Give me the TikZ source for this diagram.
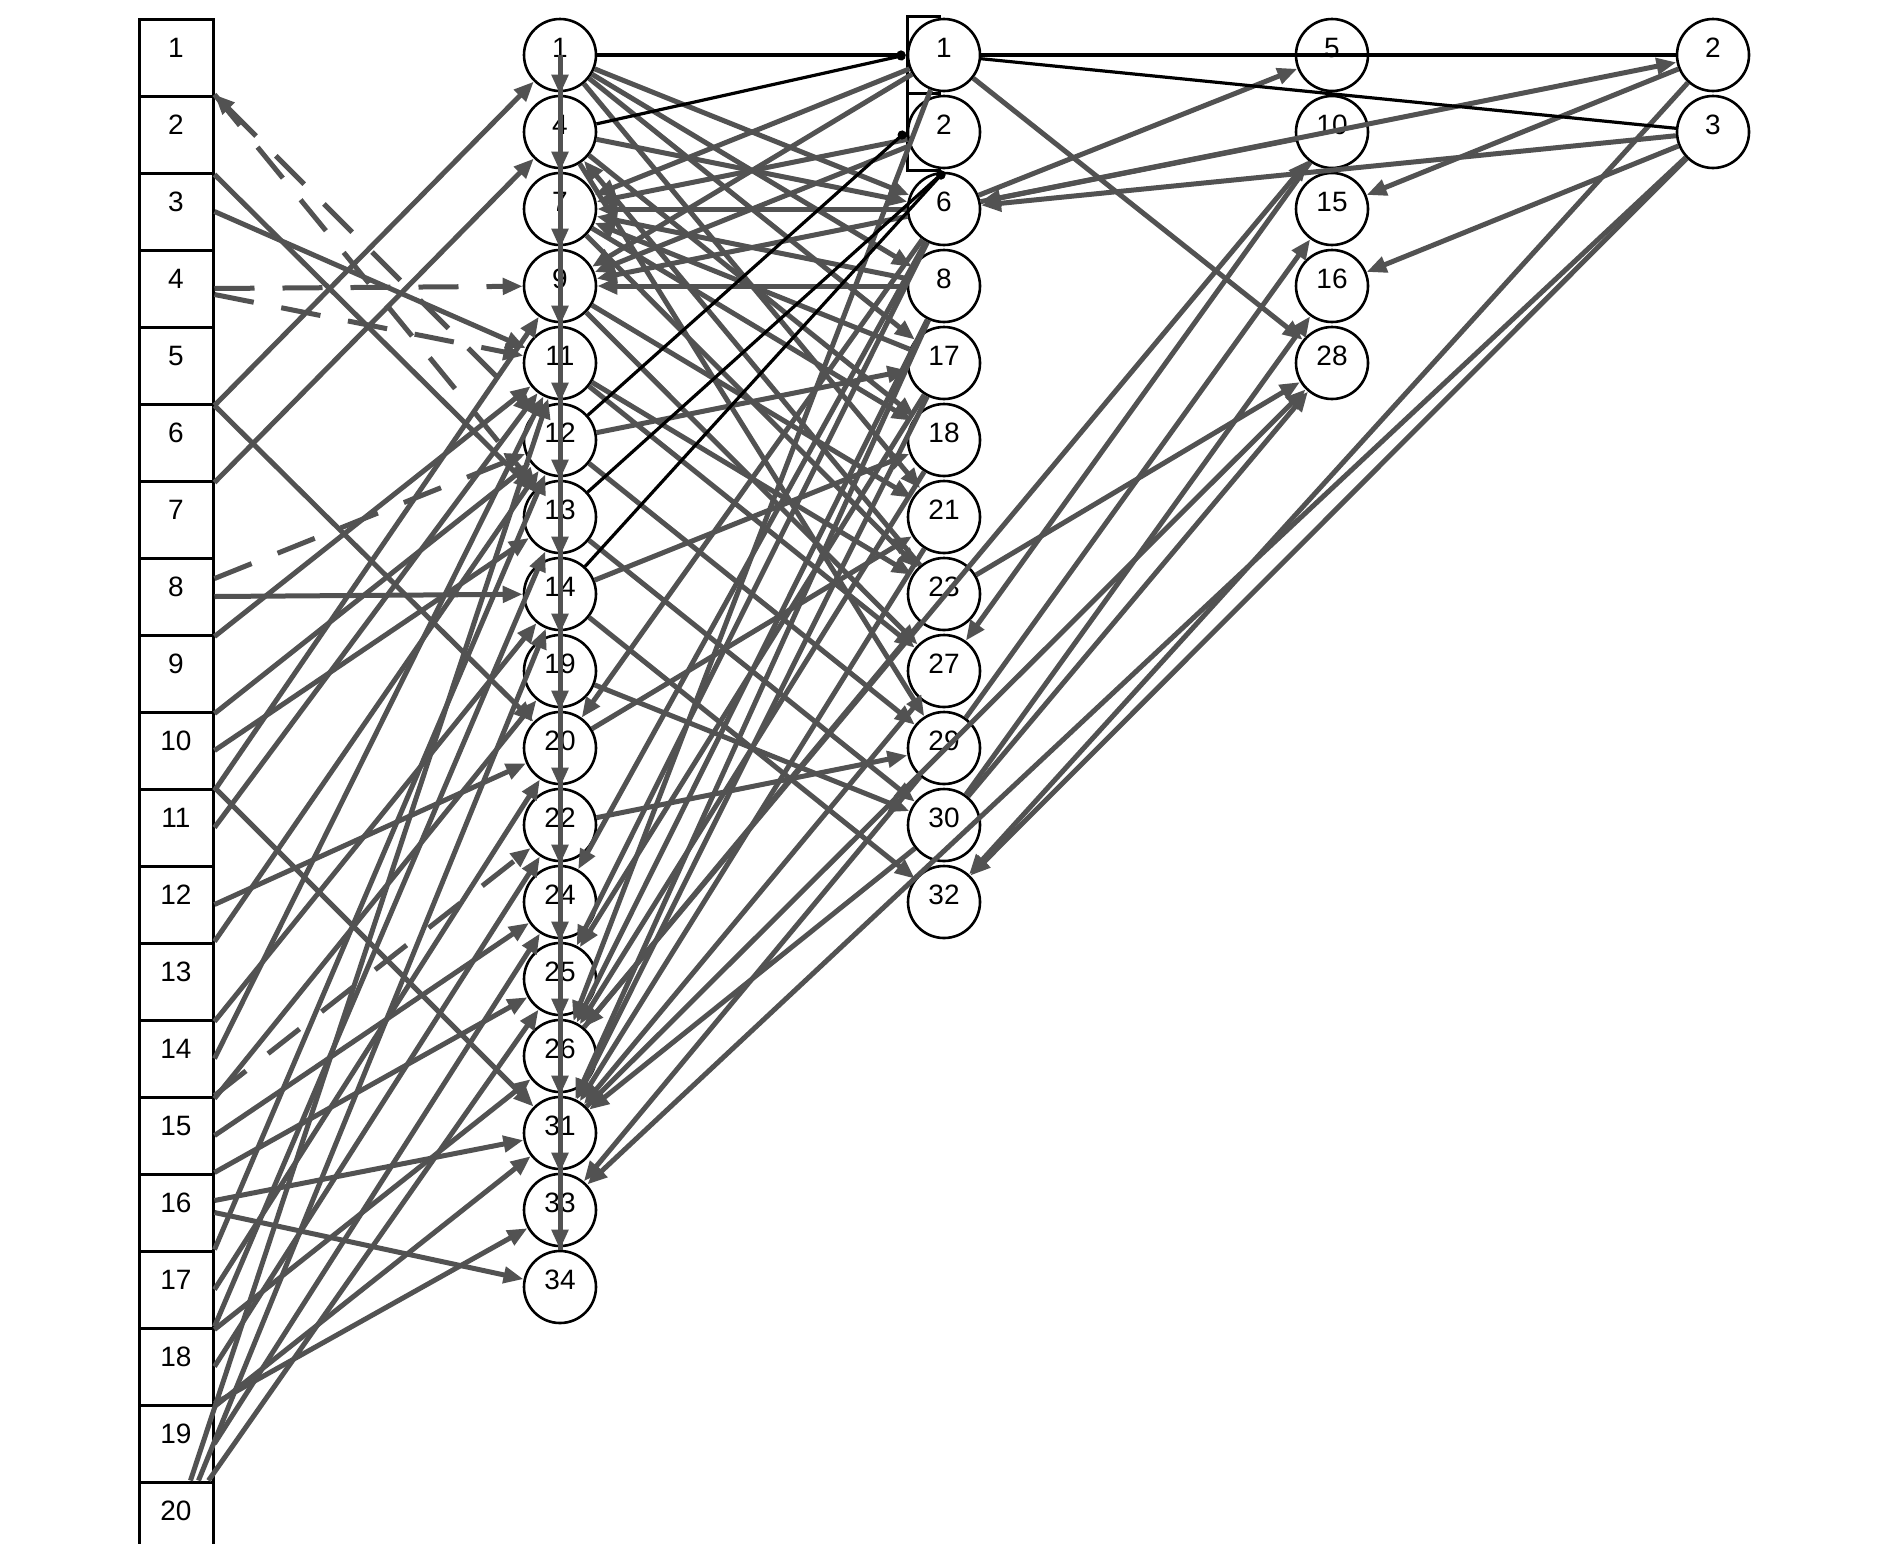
\documentclass[tikz,border=0pt]{standalone}
\usepackage{fontspec}
\setmainfont{Liberation Sans}
\usetikzlibrary{arrows.meta,calc}
\definecolor{eg}{RGB}{82,82,82}
\begin{document}
\begin{tikzpicture}[x=0.5pt,y=-0.5pt,
  >={Triangle[length=10pt,width=8pt]},
  box/.style={draw,line width=1.5pt,fill=white,minimum width=37pt,minimum height=38.5pt,inner sep=0pt,font=\fontsize{14}{16}\selectfont,text height=6pt,text depth=6pt},
  cir/.style={draw,circle,line width=1.3pt,fill=white,minimum size=36pt,inner sep=0pt,font=\fontsize{14}{16}\selectfont,text height=7pt,text depth=5pt},
  ge/.style={draw=eg,line width=2.5pt,->},
  gl/.style={draw=eg,line width=2.5pt},
  gd/.style={ge,dash pattern=on 20pt off 14pt},
  bk/.style={draw=black,line width=1.6pt,-{Circle[length=4.5pt]}},
  bl/.style={draw=black,line width=1.6pt}]
\useasboundingbox (0,0) rectangle (1889,1543);
% column 1
\foreach \k in {1,...,20} \node[box] (b\k) at (176,{57.5+77*(\k-1)}) {\k};
% column 2
\foreach \n [count=\i from 0] in {1,4,7,9,11,12,13,14,19,20,22,24,25,26,31,33,34}
  \node[cir] (a\n) at (560,{55+77*\i}) {\n};
% column 3
\node[box,minimum width=16pt] (q1) at (923,55) {};
\node[box,minimum width=16pt] (q2) at (923,132) {};
\foreach \n [count=\i from 0] in {1,2,6,8,17,18,21,23,27,29,30,32}
  \node[cir] (k\n) at (944,{55+77*\i}) {\n};
% column 4
\foreach \n [count=\i from 0] in {5,10,15,16,28}
  \node[cir] (d\n) at (1332,{55+77*\i}) {\n};
% column 5
\foreach \n [count=\i from 0] in {2,3}
  \node[cir] (e\n) at (1713,{55+77*\i}) {\n};

% ---- column 1 -> column 2
\draw[gd,<->] (b2.north east) -- (a12);
\draw[gd] (b2.north east) -- (a13);
\draw[gd] (b4.east) -- (a9);
\draw[gd] ([yshift=-3pt]b4.east) -- (a11);
\draw[gd] ([yshift=9pt]b8.east) -- (a12);
\draw[gd] (b15.north east) -- (a22);
\foreach \s/\t in {b2.south east/a13, b3.east/a11, b5.south east/a1, b5.south east/a20,
  b6.south east/a4, b8.east/a14, b8.south east/a11, b9.south east/a12,
  b10.south east/a9, b10.east/a13, b11.north east/a31, b11.east/a11,
  b12.east/a20, b13.north east/a12, b13.south east/a14, b14.east/a11,
  b14.south east/a19, b15.east/a24, b16.north east/a25, b16.east/a34,
  b17.north east/a12, b17.east/a20, b17.south east/a26, b18.north east/a13,
  b18.east/a22, b18.south east/a31, b19.north east/a33, b19.east/a24}
  \draw[ge] (\s) -- (\t);
\draw[ge] ([yshift=6pt]b16.east) -- (a31);
\draw[ge] ([xshift=-12pt]b20.north east) -- (a11);
\draw[ge] ([xshift=-8pt]b20.north east) -- (a14);
\draw[ge] ([xshift=-3pt]b20.north east) -- (a25);

% ---- column 2 chain
\draw[gl] (a1.center) -- (a34.north);
\foreach \u/\v in {1/4,4/7,7/9,9/11,11/12,12/13,13/14,14/19,19/20,20/22,22/24,24/25,25/26,26/31,31/33,33/34}
  \draw[ge] (a\u.center) -- (a\v.north);

% ---- column 2 <-> column 3
\foreach \s/\t in {a1/k6, a1/k8, a1/k17, a1/k21, a4/k6, a4/k18, a4/k29,
  k6/a7, k2/a7, k1/a7, k8/a7, k17/a7, k1/a9, k2/a9, k6/a9, k8/a9,
  a9/k21, a9/k27, a7/k18, a7/k23, a11/k23, a12/k17, a14/k18, a14/k32,
  a11/k27, a12/k29, a13/k30, a19/k30, a20/k21, a22/k29,
  k6/a20, k6/a24, k6/a25, k8/a26, k8/a31, k17/a25, k17/a31, k18/a26,
  k21/a31, k23/a26, k27/a31, k29/a33, k30/a31, k23/a4, k1/a26}
  \draw[ge] (\s) -- (\t);

% ---- columns 3, 4, 5
\foreach \s/\t in {k1/d28, k6/d5, k6/e2, e3/k6, d10/k6, e2/d15, e3/d16, k23/d28,
  d10/k27, k29/d15, k30/d16, k30/d28, e2/k32, e3/k32, e3/a33, a31/d28, a26/d10}
  \draw[ge] (\s) -- (\t);

% ---- black connectors
\draw[bk] (a1) -- (q1.west);
\draw[bk] (a4) -- (q1.west);
\draw[bk] (a12) -- (q2.west);
\draw[bk] (a13) -- (k6.north);
\draw[bk] (a14) -- (k6.north);
\draw[bl] (k1) -- (e2);
\draw[bl] (k1) -- (e3);
\end{tikzpicture}
\end{document}
